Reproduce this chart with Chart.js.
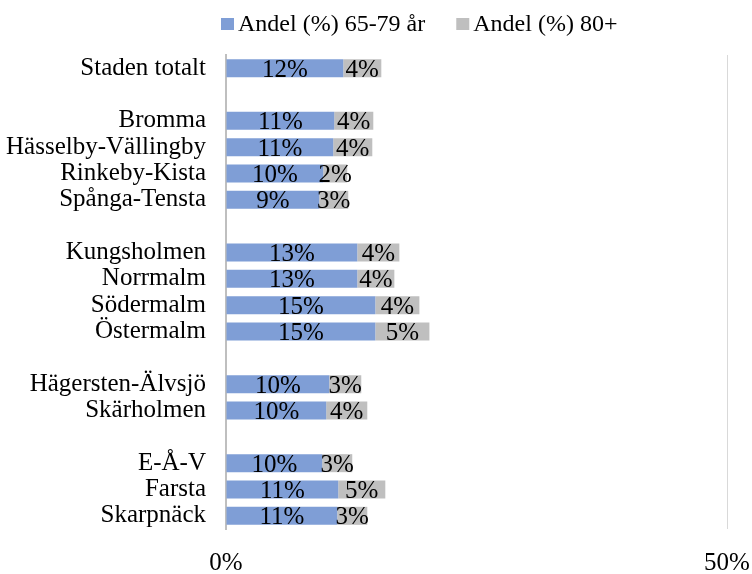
<!DOCTYPE html>
<html>
<head>
<meta charset="utf-8">
<script src="https://cdn.jsdelivr.net/npm/chart.js@4/dist/chart.umd.min.js"></script>
<style>
  html, body { margin: 0; padding: 0; background: #ffffff; }
  #wrap { width: 752px; height: 574px; position: relative; }
</style>
</head>
<body>
<div id="wrap"><canvas id="c"></canvas></div>
<script>
const categories = [
  'Staden totalt', '',
  'Bromma', 'Hässelby-Vällingby', 'Rinkeby-Kista', 'Spånga-Tensta', '',
  'Kungsholmen', 'Norrmalm', 'Södermalm', 'Östermalm', '',
  'Hägersten-Älvsjö', 'Skärholmen', '',
  'E-Å-V', 'Farsta', 'Skarpnäck'
];
const series65to79 = [
  11.7, null,
  10.8, 10.7, 9.7, 9.3, null,
  13.1, 13.1, 14.9, 14.9, null,
  10.3, 10.0, null,
  9.6, 11.2, 11.1
];
const series80plus = [
  3.8, null,
  3.9, 3.9, 2.4, 2.9, null,
  4.2, 3.7, 4.4, 5.4, null,
  3.2, 4.1, null,
  3.0, 4.7, 3.0
];
const seriesNames = ['Andel (%) 65-79 år', 'Andel (%) 80+'];
const xTickValues = [0, 50];
const xTickLabels = ['0%', '50%'];

const FONT = "'Liberation Serif', 'Times New Roman', serif";
const BLUE = '#7f9ed6';
const GRAY = '#bfbfbf';

const valueLabelPlugin = {
  id: 'valueLabels',
  afterDatasetsDraw(chart) {
    const ctx = chart.ctx;
    ctx.save();
    ctx.font = '25px ' + FONT;
    ctx.fillStyle = '#000000';
    ctx.textAlign = 'center';
    ctx.textBaseline = 'middle';
    chart.data.datasets.forEach((ds, di) => {
      const meta = chart.getDatasetMeta(di);
      meta.data.forEach((bar, i) => {
        const v = ds.data[i];
        if (v === null || v === undefined) return;
        const cx = (bar.x + bar.base) / 2;
        ctx.fillText(Math.round(v) + '%', cx, bar.y + 2);
      });
    });
    ctx.restore();
  }
};

const legendPlugin = {
  id: 'customLegend',
  afterDraw(chart) {
    const ctx = chart.ctx;
    ctx.save();
    ctx.font = '24px ' + FONT;
    ctx.textBaseline = 'middle';
    ctx.textAlign = 'left';
    let x = 221;
    const yMid = 24;
    chart.data.datasets.forEach((ds, di) => {
      ctx.fillStyle = ds.backgroundColor;
      ctx.fillRect(x, yMid - 6, 13, 12);
      x += 17;
      ctx.fillStyle = '#000000';
      ctx.fillText(ds.label, x, yMid + 1);
      x += ctx.measureText(ds.label).width + 31;
    });
    ctx.restore();
  }
};

new Chart(document.getElementById('c'), {
  type: 'bar',
  data: {
    labels: categories,
    datasets: [
      { label: seriesNames[0], data: series65to79, backgroundColor: BLUE, borderWidth: 0 },
      { label: seriesNames[1], data: series80plus, backgroundColor: GRAY, borderWidth: 0 }
    ]
  },
  options: {
    indexAxis: 'y',
    responsive: true,
    maintainAspectRatio: false,
    animation: false,
    layout: { padding: { top: 55, right: 25, left: 0, bottom: 0 } },
    datasets: { bar: { categoryPercentage: 1.0, barPercentage: 0.684 } },
    plugins: {
      legend: { display: false },
      tooltip: { enabled: false }
    },
    scales: {
      x: {
        stacked: true,
        min: 0,
        max: 50,
        afterBuildTicks(scale) {
          scale.ticks = xTickValues.map(v => ({ value: v }));
        },
        afterFit(scale) {
          scale.height = 45;
          scale.paddingLeft = 0;
          scale.paddingRight = 0;
        },
        grid: { color: '#d9d9d9', lineWidth: 1, drawTicks: false },
        border: { display: false },
        ticks: {
          padding: 19,
          color: '#000000',
          font: { family: FONT, size: 25 },
          maxRotation: 0,
          callback(value) {
            const idx = xTickValues.indexOf(value);
            return idx >= 0 ? xTickLabels[idx] : '';
          }
        }
      },
      y: {
        stacked: true,
        afterFit(scale) { scale.width = 226; },
        grid: { display: false, drawTicks: false },
        border: { display: true, color: '#bfbfbf', width: 2 },
        ticks: {
          padding: 20,
          color: '#000000',
          autoSkip: false,
          font: { family: FONT, size: 25 }
        }
      }
    }
  },
  plugins: [valueLabelPlugin, legendPlugin]
});
</script>
</body>
</html>
